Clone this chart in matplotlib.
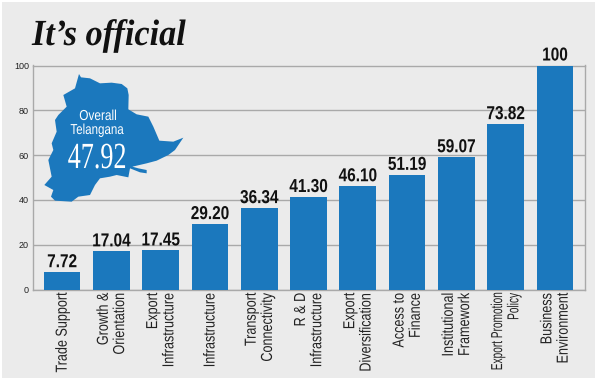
import matplotlib
matplotlib.use("Agg")
import matplotlib.pyplot as plt
from matplotlib.patches import Polygon, Rectangle
from matplotlib.patheffects import AbstractPathEffect
from matplotlib.transforms import Affine2D

categories = ["Trade Support", "Growth &\nOrientation", "Export\nInfrastructure",
              "Infrastructure", "Transport\nConnectivity", "R & D\nInfrastructure",
              "Export\nDiversification", "Access to\nFinance", "Institutional\nFramework",
              "Export Promotion\nPolicy", "Business\nEnvironment"]
values = [7.72, 17.04, 17.45, 29.20, 36.34, 41.30, 46.10, 51.19, 59.07, 73.82, 100]
value_labels = ["7.72", "17.04", "17.45", "29.20", "36.34", "41.30", "46.10", "51.19", "59.07", "73.82", "100"]
y_ticks = [0, 20, 40, 60, 80, 100]
title = "It\u2019s official"
overall_lines = ["Overall", "Telangana"]
overall_value = "47.92"
map_outline = [(237,222),(243,232),(270,235),(300,250),(335,248),(365,252),(382,265),(386,285),(385,328),
    (410,343),(445,350),(460,380),(478,422),(520,425),(550,413),(525,450),(505,465),(470,482),
    (440,490),(397,500),(415,505),(440,510),(440,520),(420,517),(390,505),(385,532),(350,525),(330,530),(300,535),(285,555),
    (270,585),(235,590),(215,605),(165,602),(153,590),(160,570),(133,555),(155,530),(145,480),(160,450),
    (155,430),(170,395),(165,360),(175,345),(200,320),(190,285),(225,265)]

BLUE = "#1b78bd"
SANS = "Liberation Sans"
SERIF = "Liberation Serif"
W, H = 600, 379


class Squeeze(AbstractPathEffect):
    """Stretch or condense real text about a display-space anchor (no condensed fonts installed)."""
    def __init__(self, sx, sy, cx, cy):
        super().__init__()
        self.t = Affine2D().translate(-cx, -cy).scale(sx, sy).translate(cx, cy)

    def draw_path(self, renderer, gc, tpath, affine, rgbFace=None):
        renderer.draw_path(gc, tpath, affine + self.t, rgbFace)


fig = plt.figure(figsize=(6, 3.79), dpi=100, facecolor="white")
fig.add_artist(Rectangle((2/W, 1-378/H), 593/W, 376/H, transform=fig.transFigure, fc="#ebebeb", ec="none", zorder=-5))

ax = fig.add_axes([32.5/W, 1-289.5/H, (584.5-32.5)/W, 224/H])
ax.patch.set_alpha(0)
x = list(range(len(values)))
ax.bar(x, values, width=0.745, color=BLUE, zorder=3)
ax.set_xlim(-0.6, 10.6)
ax.set_ylim(0, 100)
ax.set_yticks(y_ticks)
ax.set_yticklabels([str(t) for t in y_ticks], fontsize=6.5, family=SANS, color="#222222")
ax.tick_params(axis="y", length=0, pad=2.5)
ax.grid(axis="y", color="#a9a9a9", lw=1, zorder=1)
ax.set_axisbelow(True)
for s in ax.spines.values():
    s.set_color("#a9a9a9")
    s.set_linewidth(1)
ax.set_xticks(x)
labels = ax.set_xticklabels(categories, rotation=90, ha="center", va="top", multialignment="right",
                            fontsize=7.5, family=SANS, color="#222222", linespacing=1.08)
ax.tick_params(axis="x", length=0, pad=2.5)
for i, (lab, txt) in enumerate(zip(labels, categories)):
    sy = 0.97 if txt.startswith("Export Promotion") else 1.21
    cx = ax.transData.transform((i, 0))[0]
    lab.set_path_effects([Squeeze(1.53, sy, cx, H - 293)])

for i, (v, lab) in enumerate(zip(values, value_labels)):
    cx = ax.transData.transform((i, v))[0]
    ax.annotate(lab, (i, v), xytext=(0, 3.6), textcoords="offset points", ha="center", va="baseline",
                fontsize=13.5, fontweight="bold", family=SANS, color="#111111", zorder=5,
                annotation_clip=False, path_effects=[Squeeze(0.82, 1, cx, 0)])

fig.text(32/W, 1-45/H, title, fontsize=26.5, family=SERIF, fontweight="bold", style="italic",
         color="#111111", path_effects=[Squeeze(0.93, 1, 32, 0)])

pts = [(px/3/W, 1-py/3/H) for px, py in map_outline]
fig.add_artist(Polygon(pts, closed=True, transform=fig.transFigure, fc=BLUE, ec="none", zorder=4))
fig.text(98/W, 1-120/H, overall_lines[0], fontsize=10.4, family=SANS, color="white", ha="center", va="baseline",
         zorder=6, path_effects=[Squeeze(0.82, 1, 98, 0)])
fig.text(97/W, 1-134/H, overall_lines[1], fontsize=10.4, family=SANS, color="white", ha="center", va="baseline",
         zorder=6, path_effects=[Squeeze(0.8, 1, 97, 0)])
fig.text(97/W, 1-168/H, overall_value, fontsize=26.5, family=SERIF, color="white", ha="center", va="baseline",
         zorder=6, path_effects=[Squeeze(0.71, 1, 97, 0)])

fig.savefig("out.png", dpi=100)
